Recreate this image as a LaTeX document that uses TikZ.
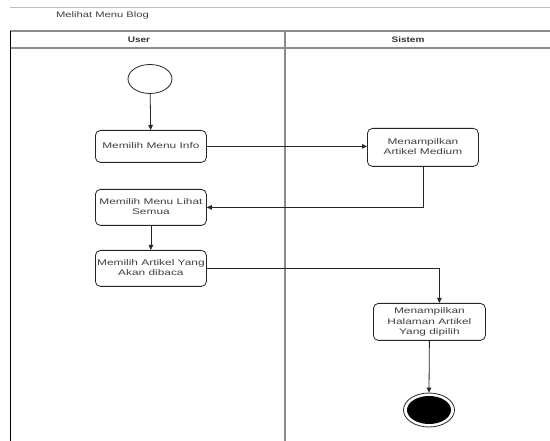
\documentclass[tikz,border=0pt]{standalone}
\usepackage{fontspec}
\setmainfont{Liberation Sans}
\usepackage{graphicx}
\usetikzlibrary{arrows.meta,shapes.geometric}

% wide sans-serif label text, centred on several lines
\newcommand{\boxtext}[1]{\scalebox{1.45}[1]{\fontsize{8.2}{10.8}\selectfont\begin{tabular}{@{}c@{}}#1\end{tabular}}}
\newcommand{\headtext}[1]{\scalebox{1.25}[1]{\fontsize{8}{10}\selectfont\bfseries #1}}

\tikzset{
  actbox/.style={draw=black!85, line width=0.8pt, rounded corners=5pt, fill=white,
    text=black!75, inner sep=0pt, anchor=north west},
  flow/.style={draw=black!85, line width=0.8pt, -{Triangle[length=5pt,width=4.5pt]}},
  lanerule/.style={draw=black!45, line width=1.1pt},
}

\begin{document}
\begin{tikzpicture}[x=1pt,y=-1pt]
\useasboundingbox (0,0) rectangle (550,441);
\fill[white] (0,0) rectangle (550,441);

% frame of the diagram
\draw[draw=black!25, line width=0.8pt] (10,7) -- (550,7);
\node[text=black!75] (title) at (102.5,15.5) {\scalebox{1.4}[1]{\fontsize{8}{10}\selectfont Melihat Menu Blog}};
\draw[lanerule] (10,31) -- (550,31);
\draw[lanerule] (10,48) -- (550,48);
\draw[lanerule] (285,31) -- (285,441);
\draw[draw=black, line width=1.2pt] (10.7,31) -- (10.7,441);
\node[text=black!80] (laneuser) at (139,39.5) {\headtext{User}};
\node[text=black!80] (lanesys) at (408,39.5) {\headtext{Sistem}};

% activities
\node[draw=black!85, line width=0.8pt, ellipse, minimum width=44pt, minimum height=29pt, inner sep=0pt] (start) at (150,79) {};
\node[actbox, minimum width=111pt, minimum height=32pt] (info) at (95,130) {\boxtext{Memilih Menu Info}};
\node[actbox, minimum width=111pt, minimum height=38pt] (medium) at (367,128) {\boxtext{Menampilkan\\Artikel Medium}};
\node[actbox, minimum width=111pt, minimum height=36pt] (lihat) at (95,189) {\boxtext{Memilih Menu Lihat\\Semua}};
\node[actbox, minimum width=111pt, minimum height=36pt] (artikel) at (95,250) {\boxtext{Memilih Artikel Yang\\Akan dibaca}};
\node[actbox, minimum width=112pt, minimum height=37pt] (halaman) at (373,303) {\boxtext{Menampilkan\\Halaman Artikel\\Yang dipilih}};
\node[draw=black!85, line width=0.8pt, ellipse, minimum width=51pt, minimum height=34pt, inner sep=0pt] (final) at (429,410) {};
\node[fill=black, ellipse, minimum width=44pt, minimum height=28pt, inner sep=0pt] (finaldot) at (final.center) {};

% control flow
\draw[flow] (start) -- (info);
\draw[flow] (info.east) -- (info.east -| medium.west);
\draw[flow] (medium.south) |- (lihat.east);
\draw[flow] (lihat) -- (artikel);
\coordinate (drop) at ([xshift=10pt]halaman.north);
\draw[flow] (artikel.east) -| (drop);
\draw[flow] (halaman.south) -- (final.north);
\end{tikzpicture}
\end{document}
